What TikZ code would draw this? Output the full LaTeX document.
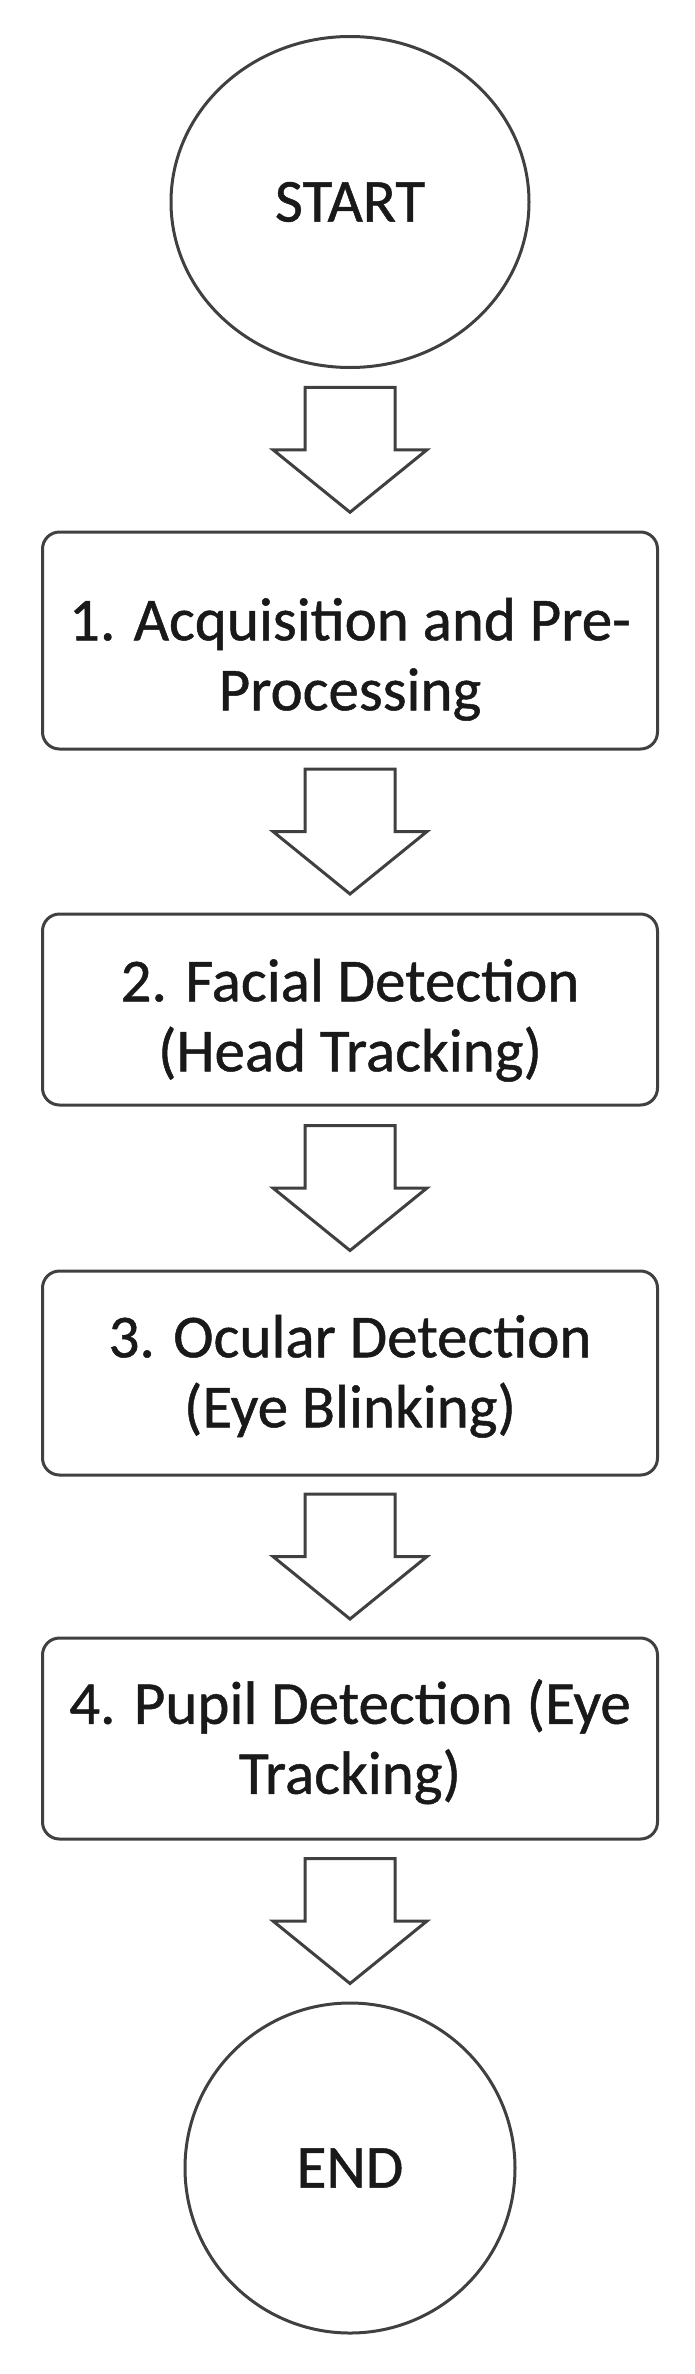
\documentclass[tikz,border=0pt]{standalone}
\usepackage{fontspec}
\setmainfont{Carlito}[FakeBold=0.8]
\usetikzlibrary{shapes.geometric,calc}

\newcommand{\toproom}[1]{\rule{0pt}{#1}}

\begin{document}
\begin{tikzpicture}[x=1pt, y=1pt,
		every node/.style={font=\fontsize{61}{70}\selectfont, text=black!90},
		terminal/.style={draw=black!75, line width=3pt, ellipse, inner sep=0pt},
		stage/.style={draw=black!75, line width=3pt, rounded corners=17pt, minimum width=615pt, align=center, inner sep=0pt},
		hollow/.style={draw=black!75, line width=3pt, line join=miter}]
		\useasboundingbox (0,0) rectangle (694,-2374);

		\coordinate (C0) at (350,-202);
		\coordinate (C1) at (350,-640.5);
		\coordinate (C2) at (350,-1009.5);
		\coordinate (C3) at (350,-1373);
		\coordinate (C4) at (350,-1738.5);
		\coordinate (C5) at (350,-2168);

		\node[terminal, minimum width=358pt, minimum height=331pt] (start) at (C0) {START};
		\node[stage, minimum height=217pt] (s1) at (C1) {\toproom{80pt}1. Acquisition and Pre-\\Processing};
		\node[stage, minimum height=191pt] (s2) at (C2) {\toproom{64pt}2. Facial Detection\\(Head Tracking)};
		\node[stage, minimum height=204pt] (s3) at (C3) {\toproom{49pt}3. Ocular Detection\\(Eye Blinking)};
		\node[stage, minimum height=201pt] (s4) at (C4) {\toproom{51pt}4. Pupil Detection (Eye\\Tracking)};
		\node[terminal, minimum size=330pt] (end) at (C5) {END};

		% hollow block arrows between the steps
		\foreach \a/\b in {start/s1, s1/s2, s2/s3, s3/s4, s4/end} {
			\coordinate (m) at ($(\a.south)!0.5!(\b.north)$);
			\draw[hollow] (m) ++(-45,62.5) -- ++(90,0) -- ++(0,-62.5) -- ++(32,0) -- ++(-77,-62.5) -- ++(-77,62.5) -- ++(32,0) -- cycle;
		}
	\end{tikzpicture}
\end{document}
